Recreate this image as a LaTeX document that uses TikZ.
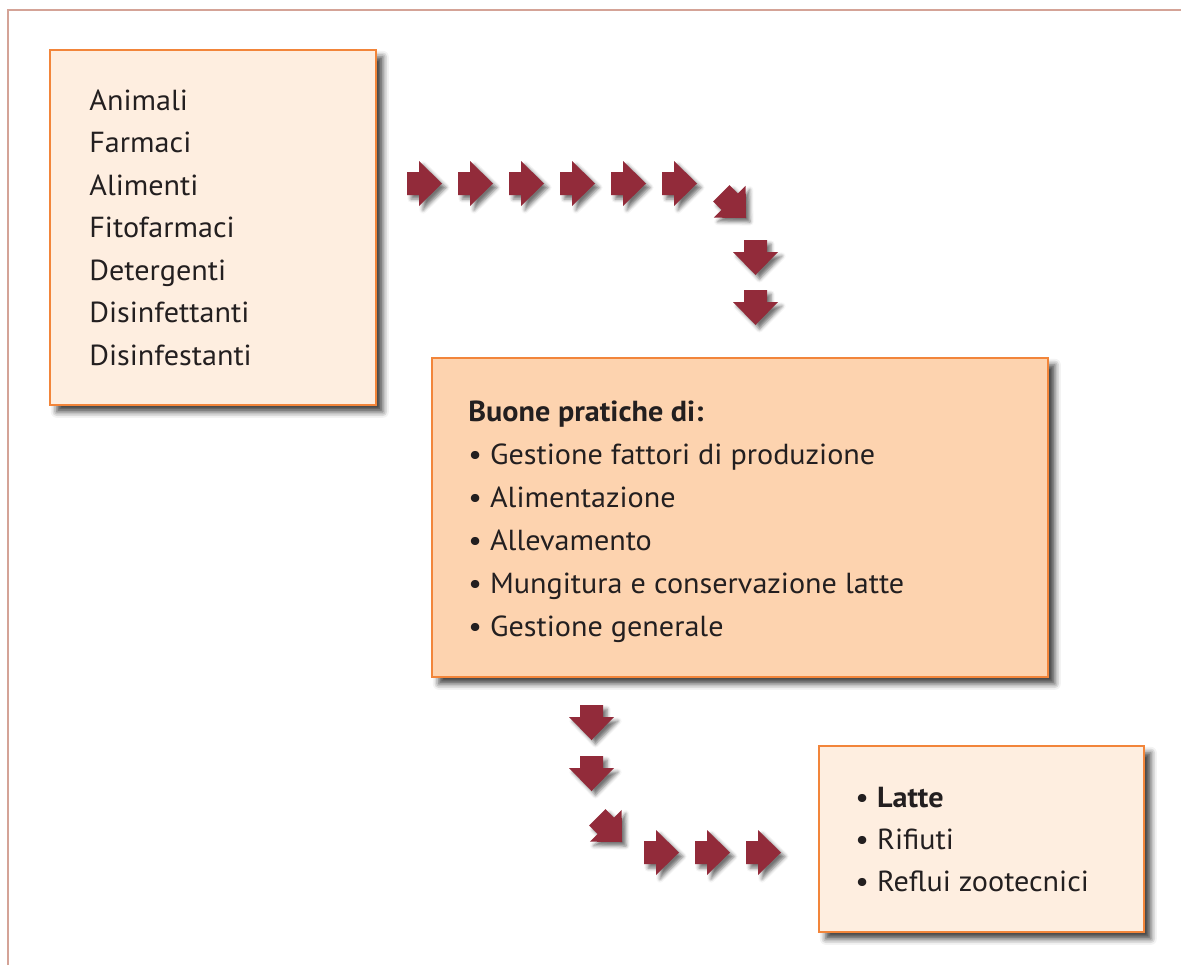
\documentclass[tikz,border=0pt]{standalone}
\usepackage{fontspec}
\setmainfont{PT Sans}[FakeStretch=1.04]
\usetikzlibrary{calc,shadows.blur}
\definecolor{framec}{HTML}{D4A397}
\definecolor{boxline}{HTML}{F2853A}
\definecolor{lightfill}{HTML}{FEEEE0}
\definecolor{peachfill}{HTML}{FDD3AF}
\definecolor{arrowc}{HTML}{922B3A}
\definecolor{textc}{HTML}{231F20}
\begin{document}
\begin{tikzpicture}[x=0.5pt,y=-0.5pt,
  box/.style={draw=boxline, line width=0.8pt, inner sep=0pt, anchor=north west,
    blur shadow={shadow xshift=3.5pt, shadow yshift=-3.5pt, shadow blur radius=3pt, shadow opacity=75}},
  txt/.style={anchor=base west, inner sep=0pt, font=\fontsize{14.5}{17}\selectfont, text=textc},
  pics/arr/.style={code={
    \fill[arrowc, blur shadow={shadow xshift=2pt, shadow yshift=-2pt, shadow blur radius=1.8pt, shadow opacity=55}]
      (-35,-11.5) -- (-23,-11.5) -- (-23,-22.5) -- (0,0) -- (-23,22.5) -- (-23,11.5) -- (-35,11.5) -- cycle;
  }}
]
\useasboundingbox (0,0) rectangle (1181,965);
% frame
\draw[framec, line width=1pt] (8,965) -- (8,10) -- (1181,10);

% boxes
\node[box, fill=lightfill, minimum width=163pt, minimum height=177.5pt] (inputs) at (49,49) {};
\node[box, fill=peachfill, minimum width=308pt, minimum height=159.5pt] (practices) at (431,357) {};
\node[box, fill=lightfill, minimum width=162.5pt, minimum height=93pt] (outputs) at (818,745) {};

% input texts
\foreach \t [count=\i from 0] in {Animali,Farmaci,Alimenti,Fitofarmaci,Detergenti,Disinfettanti,Disinfestanti}
  \node[txt] (in\i) at ($(inputs.north west)+(40,61+42.5*\i)$) {\t};

% practices texts
\node[txt, font=\fontsize{14.5}{17}\selectfont\bfseries] (ptitle) at ($(practices.north west)+(37,64)$) {Buone pratiche di:};
\foreach \t [count=\i from 0] in {Gestione fattori di produzione,Alimentazione,Allevamento,Mungitura e conservazione latte,Gestione generale}
  \node[txt] (p\i) at ($(practices.north west)+(37,107+43*\i)$) {• \t};

% output texts
\node[txt] (o0) at ($(outputs.north west)+(37,62)$) {• \textbf{Latte}};
\node[txt] (o1) at ($(outputs.north west)+(37,104)$) {• Rifiuti};
\node[txt] (o2) at ($(outputs.north west)+(37,146)$) {• Reflui zootecnici};

% arrow chain 1
\foreach \x in {442,493,544,595,646,697}
  \pic at (\x,183.5) {arr};
\pic[rotate=-45] at (746,218) {arr};
\pic[rotate=-90] at (755.5,275) {arr};
\pic[rotate=-90] at (755.5,325) {arr};

% arrow chain 2
\pic[rotate=-90] at (591.5,740) {arr};
\pic[rotate=-90] at (591.5,791) {arr};
\pic[rotate=-45] at (622,842) {arr};
\foreach \x in {679,730,781}
  \pic at (\x,852.5) {arr};
\end{tikzpicture}
\end{document}
